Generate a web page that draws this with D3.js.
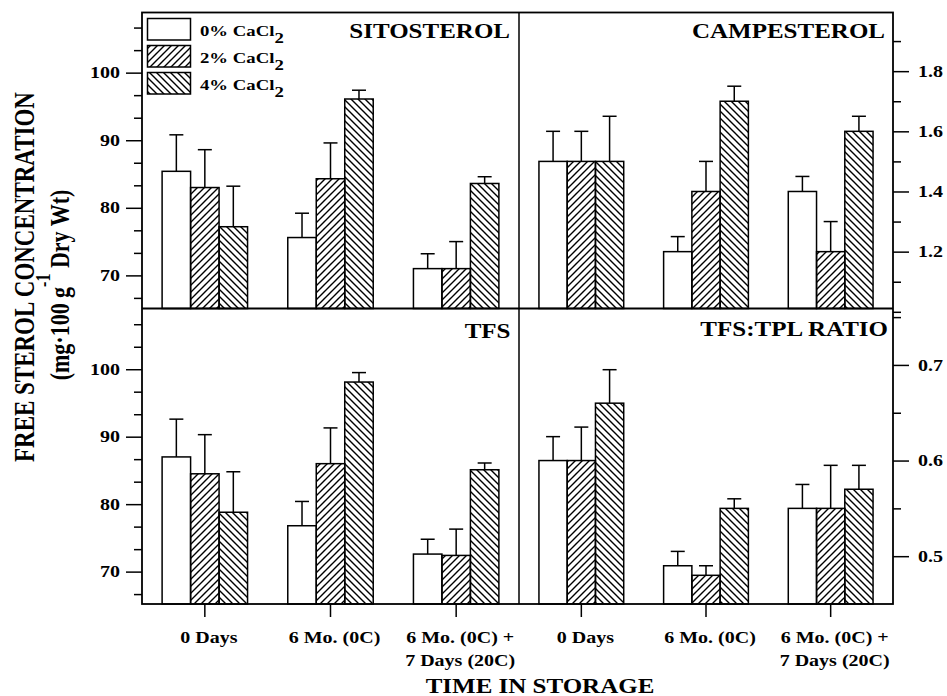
<!DOCTYPE html>
<meta charset="utf-8">
<script src="https://d3js.org/d3.v7.min.js"></script>
<style>
  body { margin: 0; background: #fff; }
  text { font-family: "Liberation Serif", "Times New Roman", serif; font-weight: bold; fill: #000; }
</style>
<body>
<svg width="947" height="696"></svg>
<script>

    const groups = ["0 Days", "6 Mo. (0C)", "6 Mo. (0C) + 7 Days (20C)"]
    const groupLines = [["0 Days"], ["6 Mo. (0C)"], ["6 Mo. (0C) +", "7 Days (20C)"]]
    const treatments = ["0%", "2%", "4%"]

    // rows = storage time, columns = 0%, 2%, 4% CaCl2 ; err = upper SE bar
    const sitosterol    = [[85.4, 83.0, 77.2], [75.6, 84.3, 96.1], [71.0, 71.0, 83.6]]
    const sitosterolErr = [[5.4, 5.6, 6.0], [3.6, 5.3, 1.3], [2.2, 4.0, 1.0]]
    const campesterol    = [[1.50, 1.50, 1.50], [1.20, 1.40, 1.70], [1.40, 1.20, 1.60]]
    const campesterolErr = [[0.10, 0.10, 0.15], [0.05, 0.10, 0.05], [0.05, 0.10, 0.05]]
    const tfs    = [[87.0, 84.5, 78.8], [76.8, 86.0, 98.1], [72.6, 72.4, 85.1]]
    const tfsErr = [[5.6, 5.8, 6.0], [3.6, 5.3, 1.4], [2.2, 3.9, 1.0]]
    const ratio    = [[0.60, 0.60, 0.66], [0.49, 0.48, 0.55], [0.55, 0.55, 0.57]]
    const ratioErr = [[0.025, 0.035, 0.035], [0.015, 0.010, 0.010], [0.025, 0.045, 0.025]]

    const leftTicks = [70, 80, 90, 100]
    const leftMinor = [66.67, 73.33, 76.67, 83.33, 86.67, 93.33, 96.67, 103.33, 106.67]
    const campTicks = [1.2, 1.4, 1.6, 1.8]
    const campMinor = [1.0, 1.1, 1.3, 1.5, 1.7, 1.9]
    const ratioTicks = [0.5, 0.6, 0.7]
    const ratioMinor = [0.55, 0.65, 0.75]

    const SX = 1.25   // the scanned figure is stretched horizontally

    let svg = d3.select('svg'),
        defs = svg.append('defs')

    let hatch = (id, d) => defs.append('pattern')
        .attr('id', id).attr('patternUnits', 'userSpaceOnUse')
        .attr('width', 7).attr('height', 7)
        .append('path').attr('d', d)
        .attr('stroke', '#000').attr('stroke-width', 1.4).attr('fill', 'none')

    hatch('fwd', 'M-1,1 l2,-2 M0,7 l7,-7 M6,8 l2,-2')
    hatch('back', 'M-1,6 l2,2 M0,0 l7,7 M6,-1 l2,2')

    const fills = ['#fff', 'url(#fwd)', 'url(#back)']

    let txt = (x, y, s, size, anchor, rot) => svg.append('text')
        .attr('transform', `translate(${x},${y}) scale(${SX},1)` + (rot ? ' rotate(-90)' : ''))
        .attr('font-size', size)
        .attr('text-anchor', anchor || 'start')
        .text(s)

    const L = 142, M = 519, R = 893, T = 12.5, H = 308.5, B = 604

    let panels = [
        {x0: L, x1: M, y0: T, y1: H, domain: [65.1, 108.9], values: sitosterol, err: sitosterolErr, title: 'SITOSTEROL', tx: 510, ty: 37.5},
        {x0: M, x1: R, y0: T, y1: H, domain: [1.011, 1.995], values: campesterol, err: campesterolErr, title: 'CAMPESTEROL', tx: 885, ty: 37.5},
        {x0: L, x1: M, y0: H, y1: B, domain: [65.2, 109.0], values: tfs, err: tfsErr, title: 'TFS', tx: 510.5, ty: 338},
        {x0: M, x1: R, y0: H, y1: B, domain: [0.45, 0.759], values: ratio, err: ratioErr, title: 'TFS:TPL RATIO', tx: 888, ty: 336}
    ]

    panels.forEach(p => {
        p.x = d3.scaleBand().domain(groups).range([p.x0, p.x1]).paddingInner(0.32).paddingOuter(0.16)
        p.xs = d3.scaleBand().domain(treatments).range([0, p.x.bandwidth()])
        p.y = d3.scaleLinear().domain(p.domain).range([p.y1, p.y0])

        let rows = []
        groups.forEach((gr, gi) => treatments.forEach((t, ti) => rows.push({
            g: gr, t: t, ti: ti, v: p.values[gi][ti], e: p.err[gi][ti]
        })))

        let g = svg.append('g')
        let bx = d => p.x(d.g) + p.xs(d.t),
            cx = d => bx(d) + p.xs.bandwidth() / 2

        g.selectAll('rect').data(rows).enter().append('rect')
            .attr('x', bx)
            .attr('y', d => p.y(d.v))
            .attr('width', p.xs.bandwidth())
            .attr('height', d => p.y1 - p.y(d.v))
            .attr('fill', d => fills[d.ti])
            .attr('stroke', '#000').attr('stroke-width', 1.5)

        g.selectAll('line.err').data(rows).enter().append('line').attr('class', 'err')
            .attr('x1', cx).attr('x2', cx)
            .attr('y1', d => p.y(d.v)).attr('y2', d => p.y(d.v + d.e))
            .attr('stroke', '#000').attr('stroke-width', 1.5)

        g.selectAll('line.cap').data(rows).enter().append('line').attr('class', 'cap')
            .attr('x1', d => cx(d) - 7).attr('x2', d => cx(d) + 7)
            .attr('y1', d => p.y(d.v + d.e)).attr('y2', d => p.y(d.v + d.e))
            .attr('stroke', '#000').attr('stroke-width', 1.5)

        txt(p.tx, p.ty, p.title, 20, 'end')
    })

    // y axes
    let styleAxis = (sel, size, dx) => {
        sel.select('.domain').remove()
        sel.selectAll('line').attr('stroke', '#000').attr('stroke-width', 1.5)
        sel.selectAll('text')
            .attr('font-size', size).attr('font-family', null)
            .attr('transform', `scale(${SX},1)`)
            .attr('x', dx / SX)
    }

    panels.forEach((p, i) => {
        let left = p.x0 == L
        let major = left ? leftTicks : (i == 1 ? campTicks : ratioTicks),
            minor = left ? leftMinor : (i == 1 ? campMinor : ratioMinor)
        let ax = left ? d3.axisLeft : d3.axisRight,
            at = left ? L : R
        svg.append('g').attr('transform', `translate(${at},0)`)
            .call(ax(p.y).tickValues(minor).tickSize(8).tickFormat(''))
            .call(s => styleAxis(s, 16, 0))
        svg.append('g').attr('transform', `translate(${at},0)`)
            .call(ax(p.y).tickValues(major).tickSize(16).tickFormat(left ? d3.format('d') : d3.format('.1f')))
            .call(s => styleAxis(s, 16, left ? -22 : 25))
    })

    // x ticks and labels
    panels.filter(p => p.y1 == B).forEach(p => {
        svg.append('g').attr('transform', `translate(0,${B})`)
            .call(d3.axisBottom(p.x).tickSize(13).tickFormat(''))
            .call(s => styleAxis(s, 16, 0))
        groups.forEach((gr, gi) => {
            groupLines[gi].forEach((ln, li) => {
                txt(p.x(gr) + p.x.bandwidth() / 2 + 4, 643 + li * 22.5, ln, 16, 'middle')
            })
        })
    })

    // frame
    svg.append('rect').attr('x', L).attr('y', T).attr('width', R - L).attr('height', B - T)
        .attr('fill', 'none').attr('stroke', '#000').attr('stroke-width', 1.8)
    svg.append('line').attr('x1', L).attr('x2', R).attr('y1', H).attr('y2', H)
        .attr('stroke', '#000').attr('stroke-width', 1.8)
    svg.append('line').attr('x1', M).attr('x2', M).attr('y1', T).attr('y2', B)
        .attr('stroke', '#000').attr('stroke-width', 1.5)

    // legend
    treatments.forEach((t, i) => {
        let y0 = 18.5 + i * 27
        svg.append('rect').attr('x', 147.5).attr('y', y0).attr('width', 43).attr('height', 21.5)
            .attr('fill', fills[i]).attr('stroke', '#000').attr('stroke-width', 1.5)
        let tx = txt(200, y0 + 17.5, '', 15)
        tx.append('tspan').text(t + ' CaCl')
        tx.append('tspan').attr('dy', 7).text('2')
    })

    // axis titles
    txt(540, 693, 'TIME IN STORAGE', 20, 'middle')
    txt(34, 277, 'FREE STEROL CONCENTRATION', 23, 'middle', true)
    let yt = txt(69, 285, '', 22, 'middle', true)
    yt.append('tspan').text('(mg\u00b7100 g')
    yt.append('tspan').attr('dy', -15).attr('font-size', 16).text('-1')
    yt.append('tspan').attr('dy', 15).text(' Dry Wt)')

</script>
</body>
